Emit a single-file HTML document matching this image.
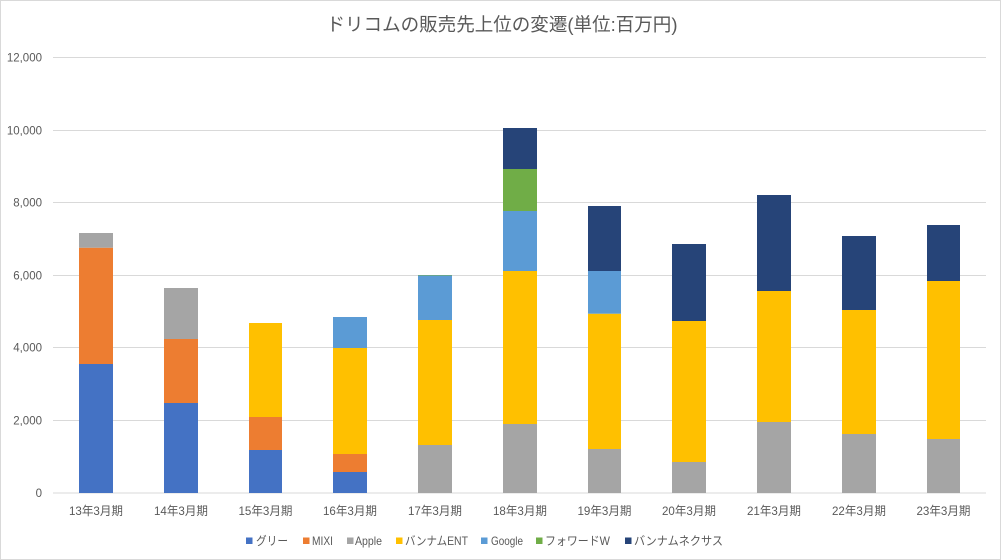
<!DOCTYPE html>
<html><head><meta charset="utf-8"><style>
html,body{margin:0;padding:0;background:#fff;}
svg{display:block;}
text{font-family:"Liberation Sans","Noto Sans CJK JP",sans-serif;fill:#595959;}
</style></head><body>
<svg width="1001" height="560" viewBox="0 0 1001 560" xmlns="http://www.w3.org/2000/svg">
<rect x="0.5" y="0.5" width="1000" height="559" fill="#fff" stroke="#D9D9D9"/>
<text x="502" y="31" font-size="18.5" text-anchor="middle" textLength="351" lengthAdjust="spacingAndGlyphs">ドリコムの販売先上位の変遷(単位:百万円)</text>
<g stroke="#D9D9D9" stroke-width="1">
<line x1="53" x2="986" y1="57.5" y2="57.5"/>
<line x1="53" x2="986" y1="130.5" y2="130.5"/>
<line x1="53" x2="986" y1="202.5" y2="202.5"/>
<line x1="53" x2="986" y1="275.5" y2="275.5"/>
<line x1="53" x2="986" y1="347.5" y2="347.5"/>
<line x1="53" x2="986" y1="420.5" y2="420.5"/>
<line x1="53" x2="986" y1="493" y2="493"/>
</g>
<g font-size="11.5" text-anchor="end">
<text x="42" y="61.5">12,000</text>
<text x="42" y="134.5">10,000</text>
<text x="42" y="206.5">8,000</text>
<text x="42" y="279.5">6,000</text>
<text x="42" y="351.5">4,000</text>
<text x="42" y="424.5">2,000</text>
<text x="42" y="497">0</text>
</g>
<!-- bars -->
<g>
<rect x="79" y="364" width="34" height="129" fill="#4472C4"/>
<rect x="79" y="247.7" width="34" height="116.3" fill="#ED7D31"/>
<rect x="79" y="233" width="34" height="14.7" fill="#A5A5A5"/>

<rect x="164" y="403" width="34" height="90" fill="#4472C4"/>
<rect x="164" y="339" width="34" height="64" fill="#ED7D31"/>
<rect x="164" y="288" width="34" height="51" fill="#A5A5A5"/>

<rect x="249" y="450" width="33" height="43" fill="#4472C4"/>
<rect x="249" y="417" width="33" height="33" fill="#ED7D31"/>
<rect x="249" y="323" width="33" height="94" fill="#FFC000"/>

<rect x="333" y="472" width="34" height="21" fill="#4472C4"/>
<rect x="333" y="454" width="34" height="18" fill="#ED7D31"/>
<rect x="333" y="348" width="34" height="106" fill="#FFC000"/>
<rect x="333" y="317" width="34" height="31" fill="#5B9BD5"/>

<rect x="418" y="445" width="34" height="48" fill="#A5A5A5"/>
<rect x="418" y="320" width="34" height="125" fill="#FFC000"/>
<rect x="418" y="275.3" width="34" height="44.7" fill="#5B9BD5"/>
<rect x="418" y="275" width="34" height="0.5" fill="#70AD47"/>

<rect x="503" y="424" width="34" height="69" fill="#A5A5A5"/>
<rect x="503" y="271" width="34" height="153" fill="#FFC000"/>
<rect x="503" y="211" width="34" height="60" fill="#5B9BD5"/>
<rect x="503" y="169" width="34" height="42" fill="#70AD47"/>
<rect x="503" y="128" width="34" height="41" fill="#264478"/>

<rect x="588" y="449" width="33" height="44" fill="#A5A5A5"/>
<rect x="588" y="313.7" width="33" height="135.3" fill="#FFC000"/>
<rect x="588" y="271" width="33" height="42.7" fill="#5B9BD5"/>
<rect x="588" y="206" width="33" height="65" fill="#264478"/>

<rect x="672" y="462" width="34" height="31" fill="#A5A5A5"/>
<rect x="672" y="321" width="34" height="141" fill="#FFC000"/>
<rect x="672" y="244" width="34" height="77" fill="#264478"/>

<rect x="757" y="422" width="34" height="71" fill="#A5A5A5"/>
<rect x="757" y="291" width="34" height="131" fill="#FFC000"/>
<rect x="757" y="195" width="34" height="96" fill="#264478"/>

<rect x="842" y="434" width="34" height="59" fill="#A5A5A5"/>
<rect x="842" y="310" width="34" height="124" fill="#FFC000"/>
<rect x="842" y="236" width="34" height="74" fill="#264478"/>

<rect x="927" y="439" width="33" height="54" fill="#A5A5A5"/>
<rect x="927" y="281" width="33" height="158" fill="#FFC000"/>
<rect x="927" y="225" width="33" height="56" fill="#264478"/>
</g>
<!-- x labels -->
<g font-size="12" text-anchor="middle">
<text x="96" y="515" textLength="54" lengthAdjust="spacingAndGlyphs">13年3月期</text>
<text x="181" y="515" textLength="54" lengthAdjust="spacingAndGlyphs">14年3月期</text>
<text x="265.5" y="515" textLength="54" lengthAdjust="spacingAndGlyphs">15年3月期</text>
<text x="350" y="515" textLength="54" lengthAdjust="spacingAndGlyphs">16年3月期</text>
<text x="435" y="515" textLength="54" lengthAdjust="spacingAndGlyphs">17年3月期</text>
<text x="520" y="515" textLength="54" lengthAdjust="spacingAndGlyphs">18年3月期</text>
<text x="604.5" y="515" textLength="54" lengthAdjust="spacingAndGlyphs">19年3月期</text>
<text x="689" y="515" textLength="54" lengthAdjust="spacingAndGlyphs">20年3月期</text>
<text x="774" y="515" textLength="54" lengthAdjust="spacingAndGlyphs">21年3月期</text>
<text x="859" y="515" textLength="54" lengthAdjust="spacingAndGlyphs">22年3月期</text>
<text x="943.5" y="515" textLength="54" lengthAdjust="spacingAndGlyphs">23年3月期</text>
</g>
<!-- legend -->
<g font-size="12">
<rect x="246" y="537.5" width="6.5" height="6.5" fill="#4472C4"/>
<text x="256" y="545" textLength="32" lengthAdjust="spacingAndGlyphs">グリー</text>
<rect x="303" y="537.5" width="6.5" height="6.5" fill="#ED7D31"/>
<text x="312" y="545" textLength="21" lengthAdjust="spacingAndGlyphs">MIXI</text>
<rect x="347" y="537.5" width="6.5" height="6.5" fill="#A5A5A5"/>
<text x="355" y="545" textLength="27" lengthAdjust="spacingAndGlyphs">Apple</text>
<rect x="396" y="537.5" width="6.5" height="6.5" fill="#FFC000"/>
<text x="405" y="545" textLength="63" lengthAdjust="spacingAndGlyphs">バンナムENT</text>
<rect x="481" y="537.5" width="6.5" height="6.5" fill="#5B9BD5"/>
<text x="491" y="545" textLength="32" lengthAdjust="spacingAndGlyphs">Google</text>
<rect x="536" y="537.5" width="6.5" height="6.5" fill="#70AD47"/>
<text x="545" y="545" textLength="65" lengthAdjust="spacingAndGlyphs">フォワードW</text>
<rect x="625" y="537.5" width="6.5" height="6.5" fill="#264478"/>
<text x="634" y="545" textLength="89" lengthAdjust="spacingAndGlyphs">バンナムネクサス</text>
</g>
</svg>
</body></html>
